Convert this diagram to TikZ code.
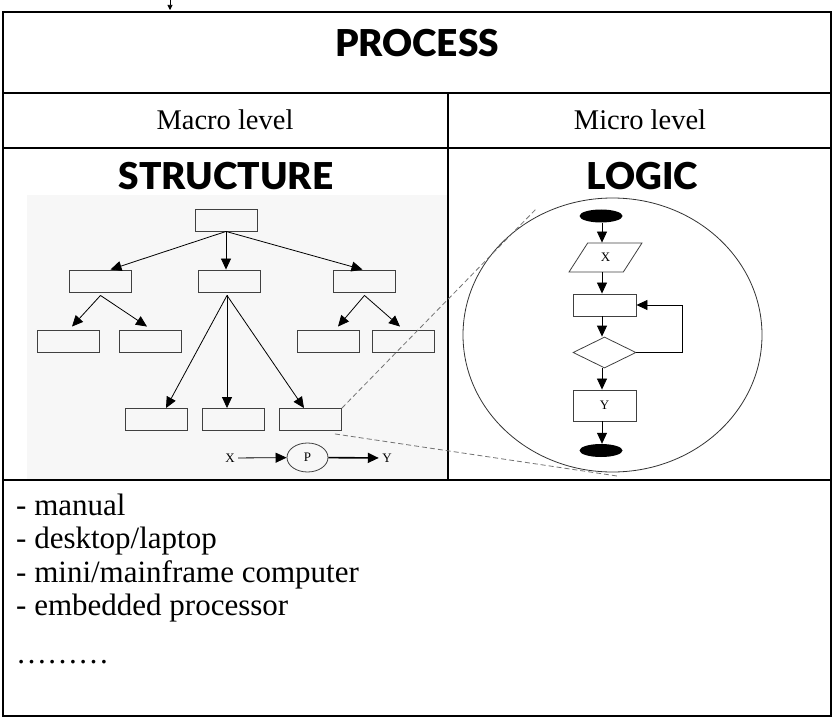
\documentclass[tikz,border=0pt]{standalone}
\usepackage{fontspec}
\setmainfont{Liberation Serif}
\setsansfont{Liberation Sans}
\newfontfamily\headfont{Lato Black}
\usepackage{tikz}
\usetikzlibrary{arrows.meta, shapes.geometric}
\newcommand{\headtxt}[1]{{\headfont\fontsize{37}{37}\selectfont #1}}
\newcommand{\leveltxt}[1]{{\fontsize{28.5}{30}\selectfont #1}}
\newcommand{\listtxt}[1]{{\fontsize{31}{33}\selectfont #1}}
\newcommand{\tinytxt}[1]{{\fontsize{13}{13}\selectfont #1}}

\begin{document}
\begin{tikzpicture}[x=1pt, y=-1pt, >={Triangle[length=11pt,width=10pt]},
    box/.style={draw=black!75, line width=0.9pt, minimum width=62pt, minimum height=22pt, inner sep=0pt},
    link/.style={->, line width=0.8pt},
    zoomline/.style={draw=black!55, line width=0.8pt, dash pattern=on 5pt off 3pt}]
    \useasboundingbox (0,0) rectangle (834,719);
    \fill[black!3] (27,195) rectangle (448,480);

    % table
    \draw[line width=2.5pt] (3,12) rectangle (831,716);
    \draw[line width=2.5pt] (3,93) -- (831,93);
    \draw[line width=2pt] (3,148) -- (831,148);
    \draw[line width=2.5pt] (3,480) -- (831,480);
    \draw[line width=2pt] (448,93) -- (448,480);
    \draw[->, >={Triangle[length=5pt,width=5pt]}, line width=0.6pt] (170,0) -- (170,10);

    \node (process) at (417,43) {\headtxt{PROCESS}};
    \node (macro) at (225,120) {\leveltxt{Macro level}};
    \node (micro) at (640,120) {\leveltxt{Micro level}};
    \node (struct) at (226,176) {\headtxt{STRUCTURE}};
    \node (logic) at (642,176) {\headtxt{LOGIC}};

    % structure tree
    \node[box] (root) at (226,220) {};
    \node[box] (l2a) at (100.5,281) {};
    \node[box] (l2b) at (229.5,281) {};
    \node[box] (l2c) at (364.5,281) {};
    \node[box] (l3a) at (68.5,341) {};
    \node[box] (l3b) at (150.5,341) {};
    \node[box] (l3c) at (328,341) {};
    \node[box] (l3d) at (403.5,341) {};
    \node[box] (l4a) at (156.5,419.5) {};
    \node[box] (l4b) at (233,419.5) {};
    \node[box] (l4c) at (310.5,419.5) {};

    \draw[link] (root.south) -- ([xshift=10pt]l2a.north);
    \draw[link] (root.south) -- (root.south |- l2b.north);
    \draw[link] (root.south) -- ([xshift=-2pt]l2c.north);
    \draw[link] ([yshift=-3pt]l2a.south) -- ([xshift=3.5pt,yshift=3pt]l3a.north);
    \draw[link] ([yshift=-3pt]l2a.south) -- ([xshift=-3.5pt,yshift=3pt]l3b.north);
    \draw[link] ([yshift=-3pt]l2c.south) -- ([xshift=10pt,yshift=3pt]l3c.north);
    \draw[link] ([yshift=-3pt]l2c.south) -- ([xshift=-3.5pt,yshift=3pt]l3d.north);
    \draw[link] ([xshift=-2.5pt,yshift=-3pt]l2b.south) -- ([xshift=9.5pt]l4a.north);
    \draw[link] ([xshift=-2.5pt,yshift=-3pt]l2b.south) -- ([xshift=-6pt]l4b.north);
    \draw[link] ([xshift=-2.5pt,yshift=-3pt]l2b.south) -- ([xshift=-6.5pt]l4c.north);

    \node (px) at (230,458) {\tinytxt{X}};
    \node[ellipse, draw=black!75, line width=0.8pt, minimum width=41pt, minimum height=29pt, inner sep=0pt] (pp) at (307.5,457.5) {\tinytxt{P}};
    \node (py) at (387,458) {\tinytxt{Y}};
    \draw[link] (px) -- (pp);
    \draw[link, line width=1.6pt] (pp) -- (py);

    % logic flowchart
    \node[ellipse, draw=black!80, line width=0.8pt, minimum width=299pt, minimum height=274pt] (lens) at (612.5,335) {};
    \node[ellipse, fill=black, minimum width=43pt, minimum height=13pt, inner sep=0pt] (start) at (601,216) {};
    \node[trapezium, trapezium left angle=60, trapezium right angle=120, trapezium stretches=true,
        draw=black!75, line width=0.8pt, minimum width=73pt, minimum height=29pt, inner sep=0pt] (inx) at (605.5,257.5) {\tinytxt{X}};
    \node[box, minimum width=63pt] (proc) at (604.5,305) {};
    \node[diamond, draw=black!75, line width=0.8pt, minimum width=63pt, minimum height=31pt, inner sep=0pt] (dec) at (604.5,352.5) {};
    \node[box, minimum width=63pt, minimum height=31pt] (outy) at (604.5,405.5) {\tinytxt{Y}};
    \node[ellipse, fill=black, minimum width=43pt, minimum height=13pt, inner sep=0pt] (stop) at (601,450.5) {};

    \draw[link] ([xshift=1pt]start.south) -- ([xshift=1pt]start.south |- inx.north);
    \draw[link] ([xshift=1pt]start.south |- inx.south) -- ([xshift=1pt]start.south |- proc.north);
    \draw[link] ([xshift=1pt]start.south |- proc.south) -- ([xshift=1pt]start.south |- dec.north);
    \draw[link] ([xshift=1pt]start.south |- dec.south) -- ([xshift=1pt]start.south |- outy.north);
    \draw[link] ([xshift=1pt]start.south |- outy.south) -- ([xshift=1pt]stop.north);
    \draw[link] (dec.east) -- ++(46,0) |- (proc.east);

    % zoom lines
    \coordinate (zoomtop) at (537,208);
    \coordinate (zoombot) at (617,476);
    \draw[zoomline] (l4c.north east) -- (zoomtop);
    \draw[zoomline] ([xshift=-7pt,yshift=-3pt]l4c.south east) -- (zoombot);

    % list
    \node[anchor=base west, inner sep=0pt] (m1) at (16,515) {\listtxt{- manual}};
    \node[anchor=base west, inner sep=0pt] (m2) at (16,548) {\listtxt{- desktop/laptop}};
    \node[anchor=base west, inner sep=0pt] (m3) at (16,582) {\listtxt{- mini/mainframe computer}};
    \node[anchor=base west, inner sep=0pt] (m4) at (16,615) {\listtxt{- embedded processor}};
    \node[anchor=base west, inner sep=0pt] (m5) at (16,663) {\listtxt{………}};
\end{tikzpicture}
\end{document}
